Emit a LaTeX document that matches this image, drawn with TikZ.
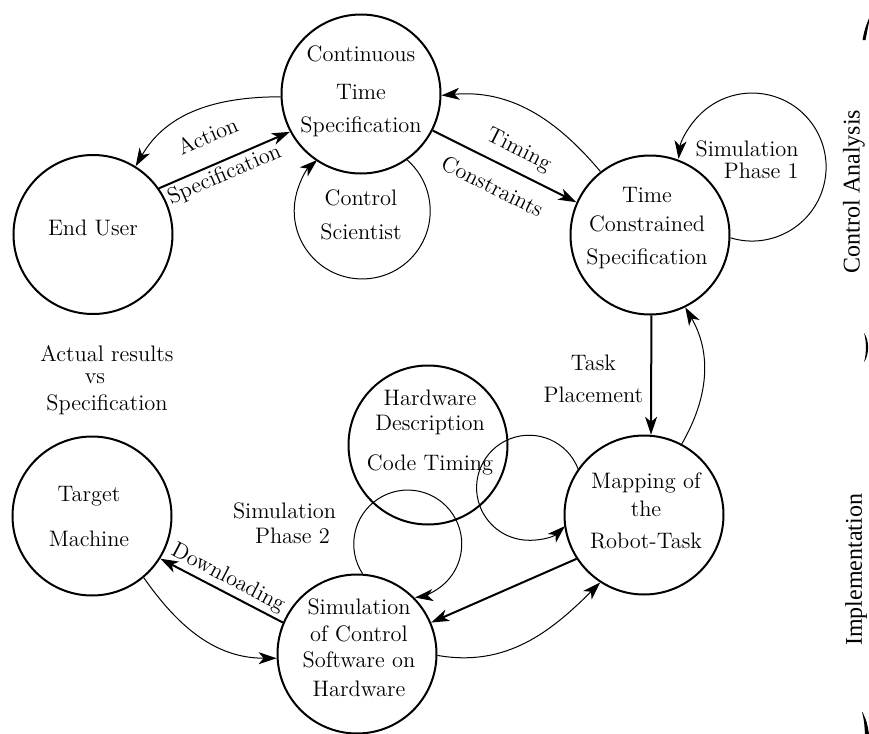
\documentclass[tikz,border=0pt]{standalone}
\usepackage{fontspec}
\newfontfamily\timesfont{Liberation Serif}
\usetikzlibrary{arrows.meta}
\begin{document}
\begin{tikzpicture}[x=0.5pt,y=0.5pt,
 state/.style={circle,draw,line width=1pt,minimum size=79.5pt,inner sep=0pt},
 txt/.style={font=\fontsize{11.2}{12}\selectfont,align=center,inner sep=0pt},
 lbl/.style={font=\fontsize{11.2}{12}\selectfont,inner sep=0pt,sloped},
 tip/.style={-{Stealth[length=9pt,width=6pt,inset=2.5pt]}},
 thickarrow/.style={line width=1pt,tip},
 thinarrow/.style={line width=0.5pt,tip},
 side/.style={font=\timesfont\fontsize{12}{14}\selectfont,rotate=90,inner sep=0pt}
]
\useasboundingbox (0,0) rectangle (869,-734);

% states
\node[state] (eu) at (93,-234.5) {};
\node[state] (cts) at (361,-94) {};
\node[state] (tcs) at (650,-235) {};
\node[state] (map) at (644,-515) {};
\node[state] (sim) at (357,-654) {};
\node[state] (tgt) at (92,-516) {};
\node[state] (hw) at (428,-445) {};

% texts
\node[txt] (eu-t) at (93,-228.2) {End User};
\node[txt] (cts-t) at (361,-91.7) {Continuous\\[6.8pt]Time\\[4.7pt]Specification};
\node[txt] (tcs-t) at (647,-228) {Time\\[2.5pt]Constrained\\[4.3pt]Specification};
\node[txt] (map-t) at (646,-510.8) {Mapping of\\[2.2pt]the\\[3.8pt]Robot-Task};
\node[txt] (sim-t) at (359,-647.5) {Simulation\\[1.3pt]of Control\\[1.3pt]Software on\\[2.2pt]Hardware};
\node[txt] (tgt-t) at (89,-516.3) {Target\\[10.5pt]Machine};
\node[txt] (hw-t) at (430,-433) {Hardware\\[0.5pt]Description\\[8pt]Code Timing};
\node[txt] (cs-t) at (361,-214.7) {Control\\[5.2pt]Scientist};
\node[txt] (avs-t) at (107,-380) {Actual results\\[-0.7pt]vs\rule{12pt}{0pt}\\[1.3pt]Specification};
\node[txt] (sp2-t) at (284.5,-523.3) {Simulation\\[0.5pt]\hspace*{8pt}Phase 2};
\node[txt,align=right,anchor=east] (sp1-t) at (799,-160) {Simulation\\[-1.2pt]Phase 1};

% connectors
\draw[thickarrow] (eu.35) -- node[lbl,pos=0.46,above=10pt] (l-act) {Action}
  node[lbl,pos=0.46,below=1.4pt] (l-spec) {Specification} (cts.208);
\draw[thinarrow] (cts.182) to[out=180,in=60] (eu.58);
\draw[thickarrow] (cts.-27) -- node[lbl,pos=0.534,above=4.7pt] (l-tim) {Timing}
  node[lbl,pos=0.488,below=7pt] (l-con) {Constraints} (tcs.156);
\draw[thinarrow] (tcs.128) to[out=130,in=5] (cts.-1);
\draw[thickarrow] (tcs.-89.5) -- node[txt,pos=0.53,left=3.5pt] (l-task) {Task\\[3.8pt]Placement} (map.85);
\draw[thinarrow] (map.62) to[out=60,in=-60] (tcs.-64);
\draw[thickarrow] (map.213) -- (sim.23);
\draw[thinarrow] (sim.-1) to[out=-10,in=225] (map.237);
\draw[thickarrow] (sim.157) -- node[lbl,pos=0.5,above=1.4pt] (l-down) {Downloading} (tgt.-32);
\draw[thinarrow] (tgt.-50) to[out=-55,in=180] (sim.183);

% self loops
\draw[thinarrow] (cts.-55.7) arc[start angle=48.6, end angle=-228.6, radius=68];
\draw[thinarrow] (tcs.-2.6) arc[start angle=-107, end angle=173.6, radius=74];
\draw[thinarrow] (map.145.7) arc[start angle=21.1, end angle=313.1, radius=52.5];
\draw[thinarrow] (sim.86.5) arc[start angle=213.3, end angle=-82.2, radius=54];

% side labels
\node[side] (ca) at (854,-191.5) {Control Analysis};
\node[side] (impl) at (856,-570) {Implementation};

% clipped brace fragments at the right edge
\fill (862.5,-40) .. controls (864.5,-30) .. (869,-18) -- (869,-22) .. controls (866.5,-31) .. (865.5,-40) -- cycle;
\fill (864,-333) .. controls (869.5,-340) and (869.5,-355) .. (864,-362)
  .. controls (866.5,-355) and (866.5,-340) .. (864,-333) -- cycle;
\fill (862,-712) .. controls (864,-720) .. (865,-734) -- (869,-734) .. controls (867,-722) .. (862.5,-712) -- cycle;
\end{tikzpicture}
\end{document}
